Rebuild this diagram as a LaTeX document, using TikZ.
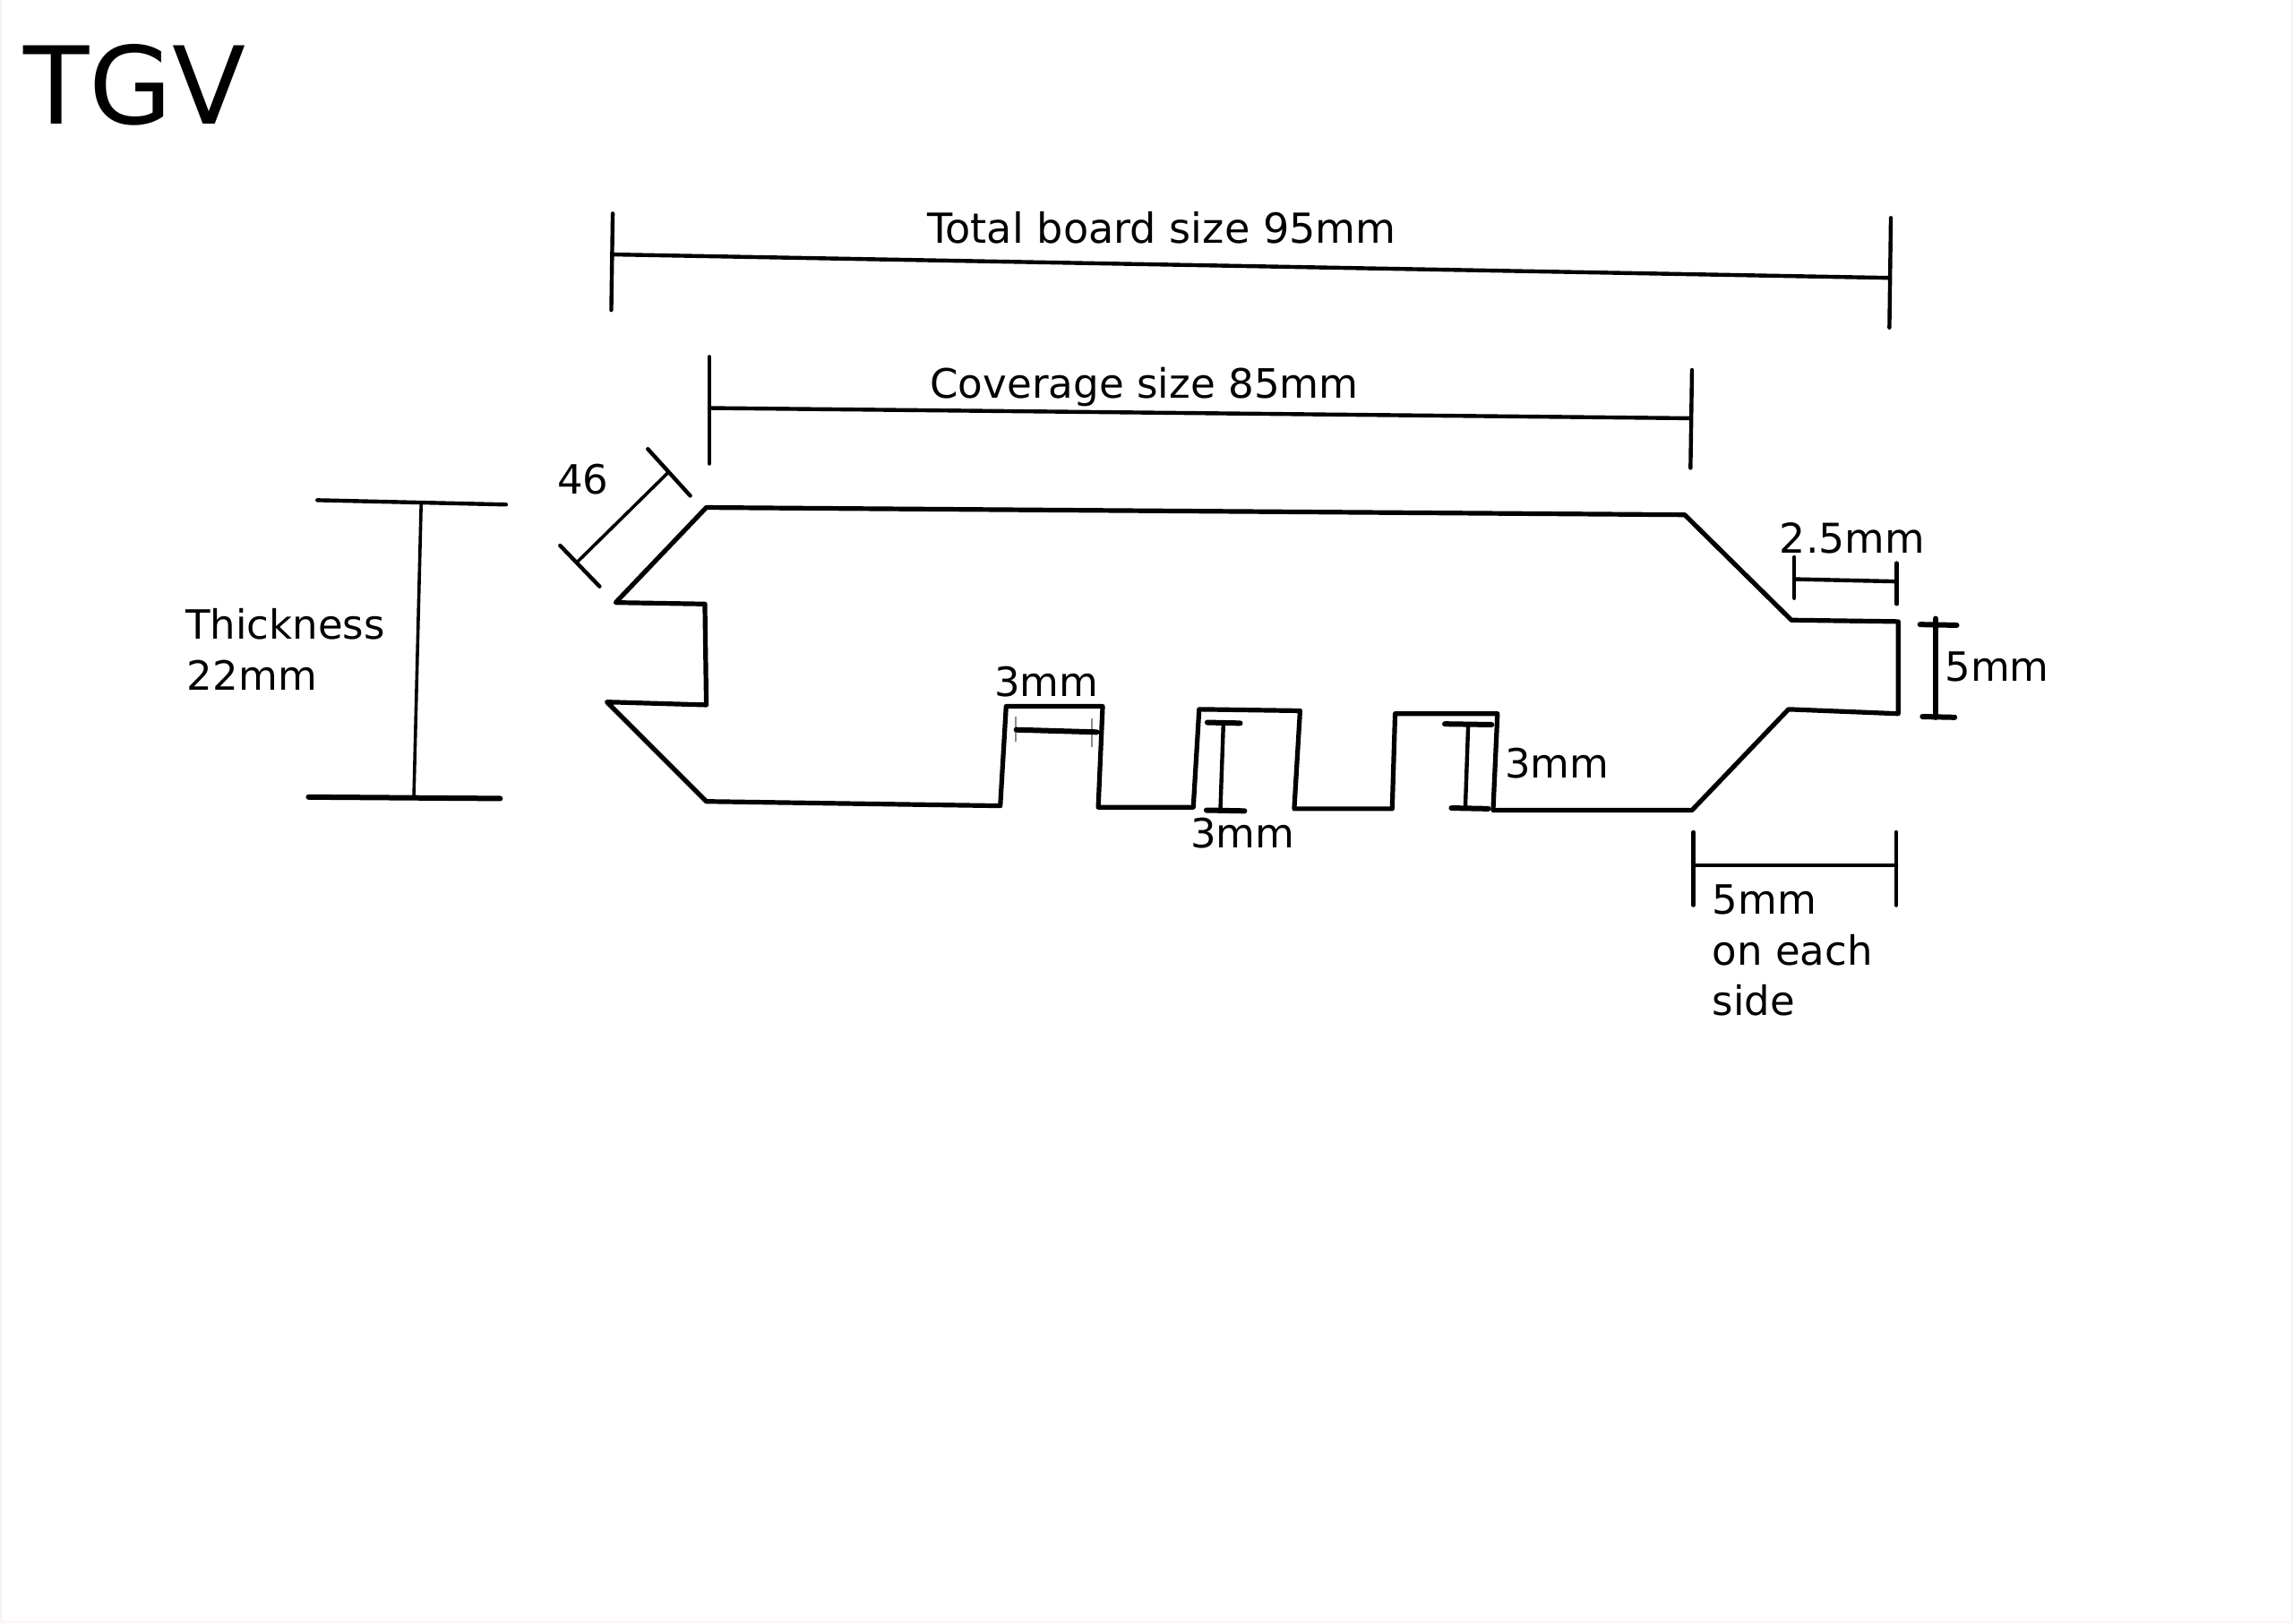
\documentclass[tikz,border=0pt]{standalone}
\usepackage{fontspec}
\setmainfont{DejaVu Sans}
\definecolor{edgegrey}{HTML}{F3F3F3}
\definecolor{edgepink}{HTML}{FDF6F6}
\tikzset{
  x=0.81633pt,y=-0.81633pt,
  boardline/.style={draw=black,line width=2.6pt,line join=round,line cap=round},
  dimline/.style={draw=black,line width=2.2pt,line cap=round},
  thinline/.style={draw=black,line width=1.8pt,line cap=round},
  thickline/.style={draw=black,line width=3pt,line cap=round},
  faintline/.style={draw=black!45,line width=1.4pt},
  lbl/.style={anchor=base west,inner sep=0pt,outer sep=0pt,font=\fontsize{22.5pt}{26pt}\selectfont,text=black}
}
\begin{document}
\begin{tikzpicture}
\useasboundingbox (0,0) rectangle (1568,1109.85);
\fill[white] (0,0) rectangle (1568,1109.85);
% faint scan edges
\fill[edgegrey] (0,0) rectangle (1.5,1109.85);
\fill[edgegrey] (1566.5,0) rectangle (1568,1109.85);
\fill[edgepink] (0,1108) rectangle (1568,1109.85);
% board profile
\draw[boardline] (483,347) -- (1152,352) -- (1225,424) -- (1298,425) -- (1298,488) -- (1223,485) -- (1157,554) -- (1021,554) -- (1024,488) -- (954,488) -- (952,553) -- (885,553) -- (889,486) -- (820,485) -- (816,552) -- (751,552) -- (754,483) -- (688,483) -- (684,551) -- (483,548) -- (415,480) -- (483,482) -- (482,413) -- (421,412) -- cycle;
% total size
\draw[dimline] (419,146) -- (418,212);
\draw[dimline] (1293,149) -- (1292,224);
\draw[dimline] (419,174) -- (1292,190);
% coverage
\draw[dimline] (485,244) -- (485,317);
\draw[dimline] (1157,253) -- (1156,320);
\draw[dimline] (485,279) -- (1156,286);
% 46
\draw[dimline] (443,307) -- (472,339);
\draw[dimline] (383,373) -- (410,401);
\draw[thinline] (457,323) -- (394,385);
% thickness
\draw[dimline] (217,342) -- (346,345);
\draw[thickline] (211,545) -- (342,546);
\draw[thinline] (288,344) -- (283,545);
% groove width
\draw[faintline] (694.6,490) -- (694.6,507);
\draw[faintline] (746.6,491) -- (746.6,511);
\draw[thickline] (695,499) -- (750,500.6);
% groove depth
\draw[thickline] (825.6,494) -- (848,494.5);
\draw[thickline] (825,554) -- (851,554.5);
\draw[dimline] (836.6,494) -- (834.5,554);
\draw[thickline] (988,495) -- (1020,495.5);
\draw[thickline] (992.5,552.5) -- (1017.7,553);
\draw[dimline] (1004,495) -- (1002,552.5);
% 2.5mm
\draw[dimline] (1227,381) -- (1227,409);
\draw[dimline] (1297,385) -- (1297,413);
\draw[dimline] (1227,396) -- (1297,397.6);
% 5mm tongue
\draw[thickline] (1313,427) -- (1338,427.5);
\draw[thickline] (1314.6,490) -- (1336.6,490.5);
\draw[thickline] (1323.6,423) -- (1323.6,490.5);
% 5mm on each side
\draw[dimline] (1158,569) -- (1158,619);
\draw[dimline] (1296.7,569) -- (1296.7,619);
\draw[dimline] (1158,591.8) -- (1296.7,591.8);
% labels
\node[lbl,font=\fontsize{60pt}{70pt}\selectfont] (title) at (16,85) {TGV};
\node[lbl,font=\fontsize{23.1pt}{26pt}\selectfont] (total) at (634,166) {Total board size 95mm};
\node[lbl,font=\fontsize{22.6pt}{26pt}\selectfont] (coverage) at (636,272) {Coverage size 85mm};
\node[lbl] (chamfer) at (381,338) {46};
\node[lbl] (thick) at (127,437) {Thickness};
\node[lbl] (thickval) at (128,472) {22mm};
\node[lbl] (groovew) at (680,476) {3mm};
\node[lbl] (grooved) at (814,580) {3mm};
\node[lbl] (groovee) at (1029,532) {3mm};
\node[lbl,font=\fontsize{22.9pt}{26pt}\selectfont] (tonguew) at (1217,378) {2.5mm};
\node[lbl] (tongueh) at (1330,466) {5mm};
\node[lbl] (sidea) at (1171,625) {5mm};
\node[lbl] (sideb) at (1171,660) {on each};
\node[lbl] (sidec) at (1171,694) {side};
\end{tikzpicture}
\end{document}
